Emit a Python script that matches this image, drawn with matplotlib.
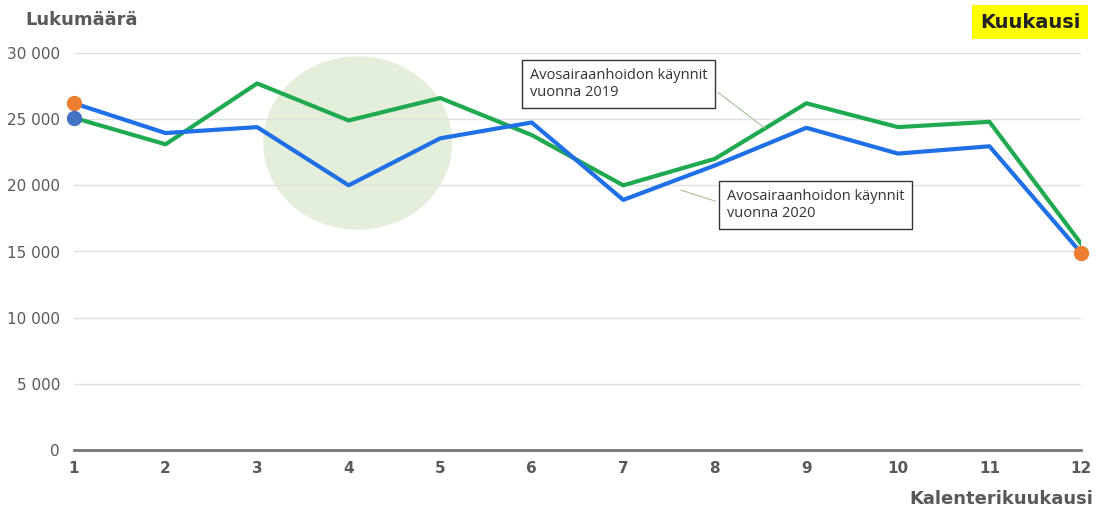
import matplotlib.pyplot as plt
from matplotlib.patches import Ellipse
from matplotlib.ticker import FuncFormatter

# data
kuukaudet = [1, 2, 3, 4, 5, 6, 7, 8, 9, 10, 11, 12]
kaynnit_2019 = [25100, 23100, 27700, 24900, 26600, 23800, 20000, 22000, 26200, 24400, 24800, 15600]
kaynnit_2020 = [26200, 23950, 24400, 20000, 23550, 24750, 18900, 21500, 24350, 22400, 22950, 14900]
label_2019 = "Avosairaanhoidon käynnit\nvuonna 2019"
label_2020 = "Avosairaanhoidon käynnit\nvuonna 2020"

grey = '#595959'

fig = plt.figure(figsize=(11.07, 5.11), dpi=100)
ax = fig.add_axes([74/1107, 61/511, 1007/1107, 397/511])

# highlight around April
ax.add_patch(Ellipse((4.1, 23200), 2.05, 13000, color='#e3efda', zorder=0))

ax.plot(kuukaudet, kaynnit_2019, color='#1faa4f', lw=3, zorder=3)
ax.plot(kuukaudet, kaynnit_2020, color='#1f6fe6', lw=3, zorder=3)

# end markers
ax.plot(kuukaudet[0], kaynnit_2020[0], 'o', color='#ed7d31', ms=10, zorder=4, clip_on=False)
ax.plot(kuukaudet[0], kaynnit_2019[0], 'o', color='#4472c4', ms=10, zorder=4, clip_on=False)
ax.plot(kuukaudet[-1], kaynnit_2020[-1], 'o', color='#ed7d31', ms=10, zorder=4, clip_on=False)

ax.set_xlim(1, 12)
ax.set_ylim(0, 30000)
ax.set_yticks(range(0, 30001, 5000))
ax.yaxis.set_major_formatter(FuncFormatter(lambda v, p: f"{int(v):,}".replace(',', ' ')))
ax.set_xticks(kuukaudet)
ax.grid(axis='y', color='#e0e0e0', lw=1)
ax.set_axisbelow(True)
for s in ['top', 'right', 'left']:
    ax.spines[s].set_visible(False)
ax.spines['bottom'].set_color('#777777')
ax.spines['bottom'].set_linewidth(2)
ax.tick_params(length=0)
ax.tick_params(axis='y', labelsize=11, labelcolor=grey, pad=10)
ax.tick_params(axis='x', labelsize=11, labelcolor=grey, pad=8)
for t in ax.get_xticklabels():
    t.set_fontweight('bold')

ax.annotate(label_2019, xy=(8.57, 24200), xytext=(5.98, 28850),
            fontsize=10.5, family='Open Sans', va='top', color='#333333',
            bbox=dict(boxstyle='square,pad=0.55', fc='white', ec='#333333', lw=1),
            arrowprops=dict(arrowstyle='-', color='#a9c49a', lw=0.8, relpos=(1, 0.5)))
ax.annotate(label_2020, xy=(7.6, 19700), xytext=(8.13, 19750),
            fontsize=10.5, family='Open Sans', va='top', color='#333333',
            bbox=dict(boxstyle='square,pad=0.55', fc='white', ec='#333333', lw=1),
            arrowprops=dict(arrowstyle='-', color='#a9c49a', lw=0.8, relpos=(0, 0.5)))

fig.text(25/1107, 1 - 20/511, "Lukumäärä", fontsize=13, fontweight='bold', color=grey, va='center')
fig.text(1030/1107, 1 - 22/511, "Kuukausi", fontsize=14, fontweight='bold', color='#222222',
         va='center', ha='center', bbox=dict(boxstyle='square,pad=0.4', fc='#ffff00', ec='none'))
fig.text(1093/1107, 1 - 499/511, "Kalenterikuukausi", fontsize=13, fontweight='bold', color=grey,
         va='center', ha='right')

fig.savefig('out.png', dpi=100)
